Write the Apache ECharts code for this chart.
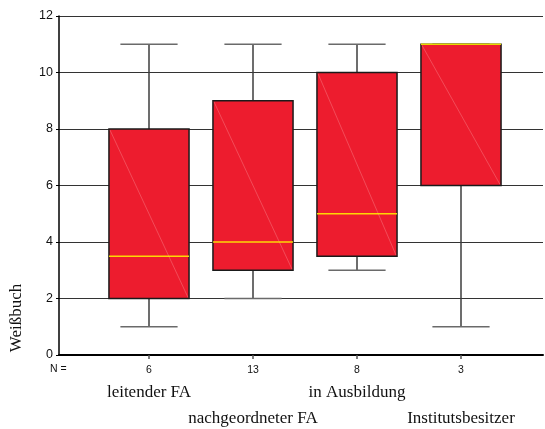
<!DOCTYPE html>
<html>
<head>
<meta charset="utf-8">
<script src="https://cdn.jsdelivr.net/npm/echarts@6/dist/echarts.min.js"></script>
<style>
  html, body { margin: 0; padding: 0; background: #fff; }
  #chart { width: 545px; height: 429px; }
</style>
</head>
<body>
<div id="chart"></div>
<script>
// Groups and group sizes
const categories = ['leitender FA', 'nachgeordneter FA', 'in Ausbildung', 'Institutsbesitzer'];
const counts = [6, 13, 8, 3];

// Five-number summaries per group
const minimum       = [1, 2, 3, 1];
const lowerQuartile = [2, 3, 3.5, 6];
const median        = [3.5, 4, 5, 11];
const upperQuartile = [8, 9, 10, 11];
const maximum       = [11, 11, 11, 11];

// Value axis range
const yMin = 0, yMax = 12, yStep = 2;

const boxData = categories.map((c, i) => [
  i, minimum[i], lowerQuartile[i], median[i], upperQuartile[i], maximum[i]
]);

const SERIF = '"Liberation Serif", "DejaVu Serif", serif';
const SANS = '"Liberation Sans", Arial, sans-serif';

function renderBox(params, api) {
  const idx = api.value(0);
  const band = api.size([1, 0])[0];
  const boxW = band * 0.77;
  const capW = band * 0.55;
  const pMin = api.coord([idx, api.value(1)]);
  const pQ1  = api.coord([idx, api.value(2)]);
  const pMed = api.coord([idx, api.value(3)]);
  const pQ3  = api.coord([idx, api.value(4)]);
  const pMax = api.coord([idx, api.value(5)]);
  const cx = pMed[0];
  const x0 = cx - boxW / 2, x1 = cx + boxW / 2;
  const whisker = { stroke: '#3c3c3c', lineWidth: 1.5 };
  const cap = { stroke: '#6a6a6a', lineWidth: 1.5 };
  return {
    type: 'group',
    children: [
      { type: 'line', shape: { x1: cx, y1: pQ3[1], x2: cx, y2: pMax[1] }, style: whisker },
      { type: 'line', shape: { x1: cx, y1: pQ1[1], x2: cx, y2: pMin[1] }, style: whisker },
      { type: 'line', shape: { x1: cx - capW / 2, y1: pMax[1], x2: cx + capW / 2, y2: pMax[1] }, style: cap },
      { type: 'line', shape: { x1: cx - capW / 2, y1: pMin[1], x2: cx + capW / 2, y2: pMin[1] }, style: cap },
      { type: 'rect', shape: { x: x0, y: pQ3[1], width: boxW, height: pQ1[1] - pQ3[1] },
        style: { fill: '#ED1C2E', stroke: '#1a1a1a', lineWidth: 1.5 } },
      { type: 'line', shape: { x1: x0 + 1, y1: pQ3[1] + 1, x2: x1 - 1, y2: pQ1[1] - 1 },
        style: { stroke: 'rgba(255,200,200,0.35)', lineWidth: 0.8 } },
      { type: 'line', shape: { x1: x0, y1: pMed[1], x2: x1, y2: pMed[1] },
        style: { stroke: 'rgba(255,236,0,0.9)', lineWidth: 1.5 } }
    ]
  };
}

const chart = echarts.init(document.getElementById('chart'), null, { renderer: 'canvas' });

chart.setOption({
  animation: false,
  backgroundColor: '#fff',
  grid: [
    { left: 59, right: 2, top: 16, bottom: 74 },
    { left: 97, width: 416, top: 16, bottom: 74 }
  ],
  xAxis: [
    {
      gridIndex: 0, type: 'value', min: 0, max: 1,
      axisLine: { show: true, onZero: false, lineStyle: { color: '#000', width: 2 } },
      axisTick: { show: false }, axisLabel: { show: false }, splitLine: { show: false }
    },
    {
      gridIndex: 1, type: 'category', data: categories,
      axisLine: { show: false },
      axisTick: { show: true, alignWithLabel: true, length: 4, lineStyle: { color: '#555', width: 1.5 } },
      axisLabel: {
        interval: 0, margin: 8,
        formatter: (value, index) => index % 2 === 0
          ? '{n|' + counts[index] + '}\n{c|' + value + '}'
          : '{n|' + counts[index] + '}\n{d|' + value + '}',
        rich: {
          n: { fontFamily: SANS, fontSize: 10.5, color: '#111', lineHeight: 14 },
          c: { fontFamily: SERIF, fontSize: 17, color: '#111', lineHeight: 32 },
          d: { fontFamily: SERIF, fontSize: 17, color: '#111', lineHeight: 84 }
        }
      }
    }
  ],
  yAxis: [
    {
      gridIndex: 0, type: 'value', min: yMin, max: yMax, interval: yStep,
      axisLine: { show: true, lineStyle: { color: '#000', width: 1.5 } },
      axisTick: { show: true, length: 3, lineStyle: { color: '#000' } },
      axisLabel: { fontFamily: SANS, fontSize: 12.5, color: '#111', margin: 6 },
      splitLine: { show: true, lineStyle: { color: '#333', width: 1 } }
    },
    {
      gridIndex: 1, type: 'value', min: yMin, max: yMax, show: false
    }
  ],
  graphic: [
    { type: 'text', left: 50, top: 364, style: { text: 'N =', font: '10.5px ' + SANS, fill: '#111' } },
    { type: 'text', x: 17, y: 318, rotation: Math.PI / 2,
      style: { text: 'Weißbuch', font: '17px ' + SERIF, fill: '#111', align: 'center', verticalAlign: 'middle' } }
  ],
  series: [
    {
      type: 'custom', xAxisIndex: 1, yAxisIndex: 1,
      renderItem: renderBox,
      encode: { x: 0, y: [1, 2, 3, 4, 5] },
      data: boxData
    }
  ]
});
</script>
</body>
</html>
